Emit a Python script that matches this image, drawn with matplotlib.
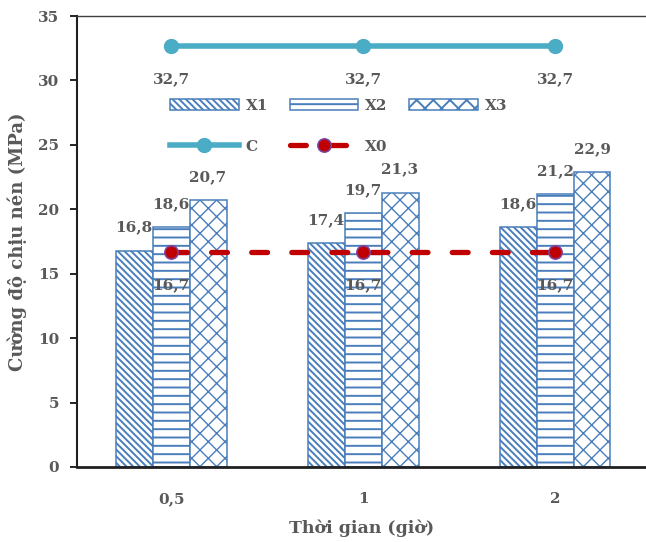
import matplotlib
matplotlib.use("Agg")
import matplotlib.pyplot as plt
import numpy as np

categories = ["0,5", "1", "2"]
x1 = [16.8, 17.4, 18.6]
x2 = [18.6, 19.7, 21.2]
x3 = [20.7, 21.3, 22.9]
c_vals = [32.7, 32.7, 32.7]
x0_vals = [16.7, 16.7, 16.7]
yticks = [0, 5, 10, 15, 20, 25, 30, 35]

plt.rcParams['font.family'] = ['DejaVu Serif']
plt.rcParams['hatch.color'] = '#4a7ebb'
plt.rcParams['hatch.linewidth'] = 1.4

grey = '#595959'
blue = '#4a7ebb'

fig = plt.figure(figsize=(6.46, 5.42), dpi=100)
ax = fig.add_axes([77/646, 75/542, 1 - 77/646, (467 - 16)/542])

pos = np.arange(len(categories))
w = 37/192

def fmt(v):
    return f"{v:.1f}".replace('.', ',')

b1 = ax.bar(pos - w, x1, w, color='white', edgecolor=blue, hatch='\\' * 5, linewidth=1.1, label='X1')
b2 = ax.bar(pos, x2, w, color='white', edgecolor=blue, hatch='--', linewidth=1.1, label='X2')
plt.rcParams['hatch.linewidth'] = 1.0
b3 = ax.bar(pos + w, x3, w, color='white', edgecolor=blue, hatch='xx', linewidth=1.1, label='X3')
plt.rcParams['hatch.linewidth'] = 1.4

lc, = ax.plot(pos, c_vals, color='#4bacc6', lw=4, marker='o', ms=10, label='C', zorder=5)
lx0, = ax.plot(pos, x0_vals, color='#c00000', lw=3.8, ls=(0, (3, 4.6)), dash_capstyle='round',
               marker='o', ms=9.5, mfc='#c00000', mec='#7f3f98', mew=1.2, label='X0', zorder=5)

lab_kw = dict(ha='center', va='center', fontsize=11, fontweight='bold', color=grey,
              textcoords='offset points')
for series, off in ((x1, -w), (x2, 0), (x3, w)):
    for i, v in enumerate(series):
        ax.annotate(fmt(v), (pos[i] + off, v), xytext=(0, 16.5), **lab_kw)
for i, v in enumerate(c_vals):
    ax.annotate(fmt(v), (pos[i], v), xytext=(0, -24.5), **lab_kw)
for i, v in enumerate(x0_vals):
    ax.annotate(fmt(v), (pos[i], v), xytext=(0, -24), **lab_kw)

ax.set_xlim(-0.49, 2.474)
ax.set_ylim(0, 35)
ax.set_yticks(yticks)
ax.set_yticklabels([str(t) for t in yticks])
ax.set_xticks(pos)
ax.set_xticklabels(categories)

for lbl in ax.get_yticklabels() + ax.get_xticklabels():
    lbl.set_fontweight('bold')
    lbl.set_color(grey)
    lbl.set_fontsize(11)

ax.tick_params(axis='y', direction='out', length=5, width=1.2, color='black', pad=8)
ax.tick_params(axis='x', length=0, pad=18)

ax.spines['right'].set_visible(False)
ax.spines['top'].set_color('#404040')
ax.spines['top'].set_linewidth(1.0)
ax.spines['left'].set_color('#202020')
ax.spines['left'].set_linewidth(1.5)
ax.spines['bottom'].set_color('#202020')
ax.spines['bottom'].set_linewidth(2)

ax.set_ylabel('Cường độ chịu nén (MPa)', fontsize=13, fontweight='bold', color=grey, labelpad=8)
ax.set_xlabel('Thời gian (giờ)', fontsize=12.5, fontweight='bold', color=grey, labelpad=10)

handles = [b1, lc, b2, lx0, b3]
labels = ['X1', 'C', 'X2', 'X0', 'X3']
leg = fig.legend(handles, labels, ncol=3, loc='upper left',
                 bbox_to_anchor=(170/646, 1 - 99/542), bbox_transform=fig.transFigure,
                 frameon=False, handlelength=4.5, handleheight=0.75, handletextpad=0.45,
                 columnspacing=1.4, labelspacing=1.75, borderpad=0, borderaxespad=0,
                 prop={'weight': 'bold', 'size': 11})
for t in leg.get_texts():
    t.set_color(grey)

fig.savefig('out.png', dpi=100)
